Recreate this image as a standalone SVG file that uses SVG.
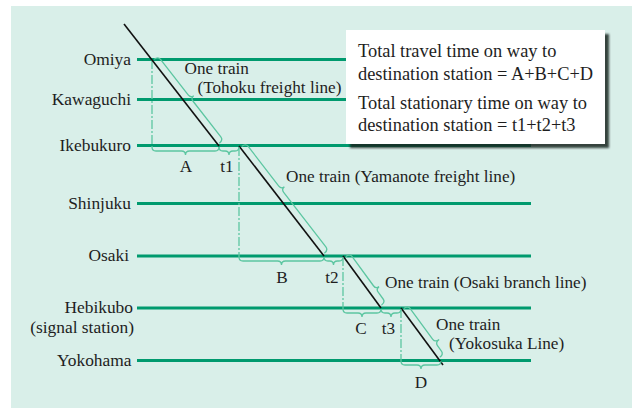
<svg xmlns="http://www.w3.org/2000/svg" width="632" height="409" viewBox="0 0 632 409">
<defs>
<style>
text{font-family:"Liberation Serif","Times New Roman",serif;fill:#1e1e1e;}
.st{font-size:17.4px;text-anchor:end;}
.lb{font-size:17.2px;}
.ct{font-size:17.2px;text-anchor:middle;}
.bx{font-size:18.4px;}
.sline{stroke:#009a6e;stroke-width:3;fill:none;}
.train{stroke:#111;stroke-width:1.6;fill:none;}
.brace{stroke:#5cc6a1;stroke-width:1.3;fill:none;}
.dd{stroke:#5cc6a1;stroke-width:1.3;fill:none;stroke-dasharray:9 2 2 2;}
</style>
<filter id="sh" x="-10%" y="-10%" width="130%" height="130%">
<feDropShadow dx="4" dy="4" stdDeviation="1.2" flood-color="#14261f" flood-opacity="0.85"/>
</filter>
</defs>
<rect x="0" y="0" width="632" height="409" fill="#ffffff"/>
<rect x="11" y="6" width="621" height="402" fill="#d9efe9"/>

<g id="stations">
<g id="omiya"><line class="sline" x1="137" y1="59.5" x2="531" y2="59.5"/><text class="st" x="131" y="64.5">Omiya</text></g>
<g id="kawaguchi"><line class="sline" x1="137" y1="99.5" x2="531" y2="99.5"/><text class="st" x="131" y="104.5">Kawaguchi</text></g>
<g id="ikebukuro"><line class="sline" x1="137" y1="145.5" x2="531" y2="145.5"/><text class="st" x="131" y="150.5">Ikebukuro</text></g>
<g id="shinjuku"><line class="sline" x1="137" y1="203.5" x2="531" y2="203.5"/><text class="st" x="131" y="208.5">Shinjuku</text></g>
<g id="osaki"><line class="sline" x1="137" y1="256" x2="531" y2="256"/><text class="st" x="129" y="261">Osaki</text></g>
<g id="hebikubo"><line class="sline" x1="137" y1="308" x2="531" y2="308"/><text class="st" x="133" y="312.5">Hebikubo</text><text class="st" x="134" y="333">(signal station)</text></g>
<g id="yokohama"><line class="sline" x1="137" y1="360.5" x2="531" y2="360.5"/><text class="st" x="131.5" y="366">Yokohama</text></g>
</g>

<g id="connectors">
<line class="dd" x1="152" y1="60" x2="152" y2="147"/>
<line class="dd" x1="239" y1="147" x2="239" y2="257"/>
<line class="dd" x1="343" y1="257" x2="343" y2="309"/>
<line class="dd" x1="401" y1="309" x2="401" y2="361"/>

<line class="train" x1="124" y1="24" x2="219" y2="146"/>
<line class="train" x1="239" y1="146" x2="324" y2="256"/>
<line class="train" x1="343" y1="256" x2="381" y2="308"/>
<line class="train" x1="401" y1="308" x2="443" y2="365"/>

<path class="brace" d="M152,147 Q152,151 156,151 L181.5,151 Q185.5,151 185.5,155 Q185.5,151 189.5,151 L215,151 Q219,151 219,147"/>
<path class="brace" d="M219,147 Q219,151 223,151 L225,151 Q229,151 229,155 Q229,151 233,151 L235,151 Q239,151 239,147"/>
<path class="brace" d="M239,257 Q239,261 243,261 L277.5,261 Q281.5,261 281.5,265 Q281.5,261 285.5,261 L320,261 Q324,261 324,257"/>
<path class="brace" d="M324,257 Q324,261 328,261 L329.5,261 Q333.5,261 333.5,265 Q333.5,261 337.5,261 L339,261 Q343,261 343,257"/>
<path class="brace" d="M343,309 Q343,313 347,313 L358,313 Q362,313 362,317 Q362,313 366,313 L377,313 Q381,313 381,309"/>
<path class="brace" d="M381,309 Q381,313 385,313 L387,313 Q391,313 391,317 Q391,313 395,313 L397,313 Q401,313 401,309"/>
<path class="brace" d="M401,361 Q401,365 405,365 L417,365 Q421,365 421,369 Q421,365 425,365 L437,365 Q441,365 441,361"/>

<path class="brace" transform="translate(151.3,59) rotate(52.1)" d="M2,-2 Q2,-7 6,-7 L51,-7 Q55,-7 55,-11 Q55,-7 59,-7 L104.2,-7 Q108.2,-7 108.2,-2"/>
<path class="brace" transform="translate(239,146) rotate(52.3)" d="M2,-2 Q2,-7 6,-7 L56,-7 Q60,-7 60,-11 Q60,-7 64,-7 L133,-7 Q137,-7 137,-2"/>
<path class="brace" transform="translate(343,256) rotate(53.8)" d="M2,-2 Q2,-7 6,-7 L42,-7 Q46,-7 46,-11 Q46,-7 50,-7 L58.4,-7 Q62.4,-7 62.4,-2"/>
<path class="brace" transform="translate(401,308) rotate(53.6)" d="M2,-2 Q2,-7 6,-7 L44,-7 Q48,-7 48,-12 Q48,-7 52,-7 L58.6,-7 Q62.6,-7 62.6,-2"/>
</g>

<g id="labels">
<text class="lb" x="184.5" y="74">One train</text>
<text class="lb" x="197.5" y="92.5">(Tohoku freight line)</text>
<text class="lb" x="286" y="181.5">One train (Yamanote freight line)</text>
<text class="lb" x="385" y="287.5">One train (Osaki branch line)</text>
<text class="lb" x="436" y="329.5">One train</text>
<text class="lb" x="449" y="348.5">(Yokosuka Line)</text>
<text class="ct" x="186" y="172">A</text>
<text class="ct" x="227" y="172">t1</text>
<text class="ct" x="282" y="282.5">B</text>
<text class="ct" x="332" y="282.5">t2</text>
<text class="ct" x="361" y="334">C</text>
<text class="ct" x="388.5" y="334">t3</text>
<text class="ct" x="421" y="387.5">D</text>
</g>

<g id="summary">
<rect x="346" y="30" width="259" height="114" fill="#ffffff" filter="url(#sh)"/>
<text class="bx" x="358" y="57">Total travel time on way to</text>
<text class="bx" x="358" y="79.5">destination station = A+B+C+D</text>
<text class="bx" x="358" y="108.5">Total stationary time on way to</text>
<text class="bx" x="358" y="131">destination station = t1+t2+t3</text>
</g>
</svg>
